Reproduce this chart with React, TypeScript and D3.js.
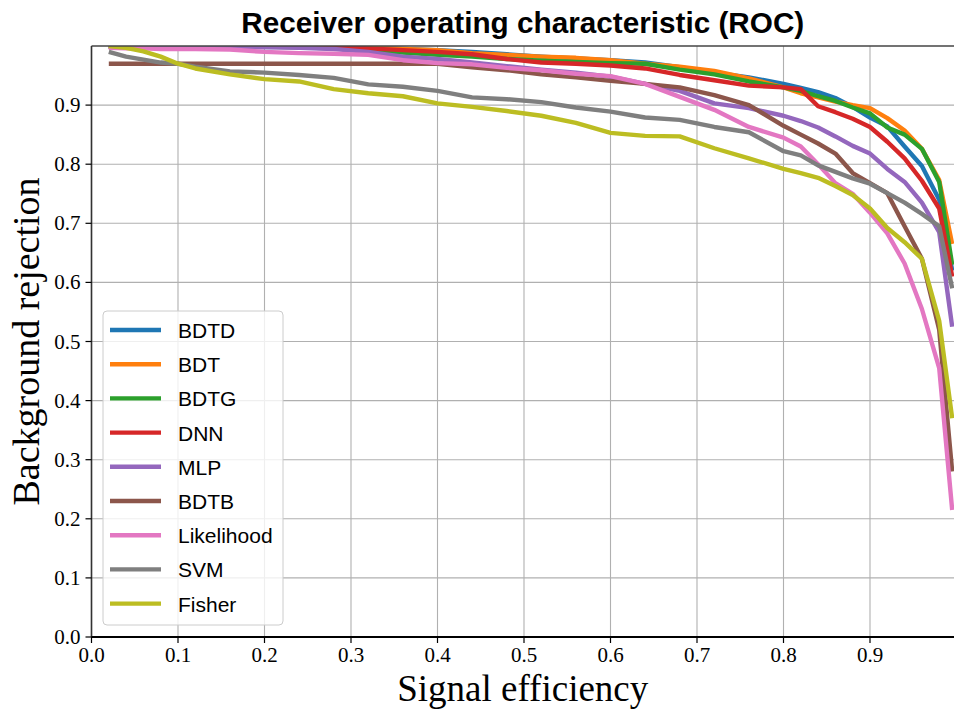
import { useEffect, useRef } from 'react';
import * as d3 from 'd3';

// signal efficiency points shared by every curve
const efficiency = [0.02, 0.04, 0.06, 0.08, 0.10, 0.12, 0.16, 0.20, 0.24, 0.28, 0.32, 0.36, 0.40, 0.44, 0.48, 0.52, 0.56, 0.60, 0.64, 0.68, 0.72, 0.76, 0.80, 0.82, 0.84, 0.86, 0.88, 0.90, 0.92, 0.94, 0.96, 0.98, 0.995];

const bdtd = [0.999, 0.999, 0.999, 0.999, 0.999, 0.999, 0.999, 0.999, 0.999, 0.999, 0.997, 0.995, 0.993, 0.99, 0.986, 0.982, 0.979, 0.976, 0.972, 0.964, 0.955, 0.947, 0.936, 0.929, 0.922, 0.912, 0.897, 0.879, 0.864, 0.83, 0.797, 0.74, 0.62];
const bdt = [0.999, 0.999, 0.999, 0.999, 0.999, 0.999, 0.999, 0.999, 0.999, 0.999, 0.997, 0.995, 0.993, 0.988, 0.985, 0.982, 0.98, 0.976, 0.97, 0.965, 0.958, 0.945, 0.93, 0.92, 0.913, 0.906, 0.9, 0.895, 0.878, 0.857, 0.826, 0.773, 0.665];
const bdtg = [0.999, 0.999, 0.999, 0.999, 0.999, 0.999, 0.999, 0.999, 0.998, 0.996, 0.993, 0.989, 0.985, 0.982, 0.978, 0.975, 0.973, 0.971, 0.97, 0.96, 0.952, 0.94, 0.93, 0.924, 0.915, 0.907, 0.896, 0.886, 0.862, 0.85, 0.826, 0.77, 0.63];
const dnn = [0.999, 0.999, 0.999, 0.999, 0.999, 0.999, 0.999, 0.999, 0.999, 0.998, 0.996, 0.993, 0.99, 0.986, 0.978, 0.972, 0.97, 0.967, 0.962, 0.951, 0.942, 0.933, 0.93, 0.927, 0.898, 0.888, 0.877, 0.863, 0.838, 0.81, 0.772, 0.725, 0.61];
const mlp = [0.999, 0.998, 0.998, 0.998, 0.998, 0.998, 0.998, 0.998, 0.997, 0.995, 0.99, 0.982, 0.978, 0.972, 0.966, 0.96, 0.955, 0.948, 0.936, 0.924, 0.903, 0.895, 0.882, 0.873, 0.862, 0.847, 0.831, 0.818, 0.792, 0.77, 0.735, 0.685, 0.525];
const bdtb = [0.97, 0.97, 0.97, 0.97, 0.97, 0.97, 0.97, 0.97, 0.97, 0.97, 0.97, 0.97, 0.97, 0.964, 0.959, 0.952, 0.947, 0.941, 0.936, 0.93, 0.917, 0.9, 0.865, 0.85, 0.835, 0.818, 0.785, 0.768, 0.751, 0.695, 0.64, 0.52, 0.28];
const likelihood = [0.997, 0.996, 0.996, 0.995, 0.995, 0.995, 0.994, 0.99, 0.988, 0.987, 0.985, 0.976, 0.971, 0.969, 0.963, 0.959, 0.953, 0.949, 0.936, 0.914, 0.892, 0.863, 0.845, 0.83, 0.8, 0.768, 0.75, 0.718, 0.683, 0.632, 0.555, 0.455, 0.215];
const svm = [0.99, 0.982, 0.977, 0.972, 0.97, 0.965, 0.957, 0.955, 0.951, 0.946, 0.935, 0.931, 0.924, 0.913, 0.91, 0.905, 0.896, 0.889, 0.879, 0.875, 0.863, 0.854, 0.822, 0.815, 0.798, 0.787, 0.776, 0.767, 0.751, 0.735, 0.716, 0.695, 0.59];
const fisher = [1.0, 0.997, 0.991, 0.982, 0.97, 0.962, 0.952, 0.944, 0.94, 0.927, 0.92, 0.915, 0.903, 0.897, 0.89, 0.882, 0.87, 0.853, 0.848, 0.847, 0.827, 0.81, 0.792, 0.785, 0.777, 0.763, 0.748, 0.725, 0.692, 0.668, 0.64, 0.535, 0.37];

const methods = ['BDTD', 'BDT', 'BDTG', 'DNN', 'MLP', 'BDTB', 'Likelihood', 'SVM', 'Fisher'];
const rejections = [bdtd, bdt, bdtg, dnn, mlp, bdtb, likelihood, svm, fisher];
const colors = ['#1f77b4', '#ff7f0e', '#2ca02c', '#d62728', '#9467bd', '#8c564b', '#e377c2', '#7f7f7f', '#bcbd22'];

const xTicks = [0, 0.1, 0.2, 0.3, 0.4, 0.5, 0.6, 0.7, 0.8, 0.9];
const yTicks = [0, 0.1, 0.2, 0.3, 0.4, 0.5, 0.6, 0.7, 0.8, 0.9];

const width = 954;
const height = 711;

export default function App() {
  const svgRef = useRef<SVGSVGElement>(null);

  useEffect(() => {
    if (!svgRef.current) return;
    const svg = d3.select(svgRef.current);
    svg.selectAll('*').remove();

    const left = 91.5;
    const right = 956.5;
    const top = 46;
    const bottom = 637;

    const x = d3.scaleLinear().domain([0, 1]).range([left, right]);
    const y = d3.scaleLinear().domain([0, 1]).range([bottom, top]);

    svg.append('rect').attr('width', width).attr('height', height).attr('fill', '#fff');

    svg.append('defs').append('clipPath').attr('id', 'plot-clip')
      .append('rect')
      .attr('x', left).attr('y', top)
      .attr('width', right - left).attr('height', bottom - top);

    // grid
    const grid = svg.append('g').attr('stroke', '#b0b0b0').attr('stroke-width', 1.1);
    xTicks.forEach(t => {
      grid.append('line').attr('x1', x(t)).attr('x2', x(t)).attr('y1', top).attr('y2', bottom);
    });
    yTicks.forEach(t => {
      grid.append('line').attr('x1', left).attr('x2', right).attr('y1', y(t)).attr('y2', y(t));
    });

    // ROC curves
    const line = d3.line<number>()
      .x((_, i) => x(efficiency[i]))
      .y(d => y(d));

    const curves = svg.append('g').attr('clip-path', 'url(#plot-clip)');
    rejections.forEach((values, i) => {
      curves.append('path')
        .datum(values)
        .attr('fill', 'none')
        .attr('stroke', colors[i])
        .attr('stroke-width', 4.4)
        .attr('stroke-linejoin', 'round')
        .attr('d', line);
    });

    // frame
    svg.append('line').attr('x1', left).attr('x2', right).attr('y1', top).attr('y2', top)
      .attr('stroke', '#444').attr('stroke-width', 1.6);
    svg.append('line').attr('x1', left).attr('x2', left).attr('y1', top).attr('y2', bottom)
      .attr('stroke', '#333').attr('stroke-width', 1.6);
    svg.append('line').attr('x1', left).attr('x2', right).attr('y1', bottom).attr('y2', bottom)
      .attr('stroke', '#000').attr('stroke-width', 1.8);

    // ticks
    const tickFont = '"Liberation Serif", "DejaVu Serif", serif';
    xTicks.forEach(t => {
      svg.append('line').attr('x1', x(t)).attr('x2', x(t)).attr('y1', bottom).attr('y2', bottom + 6)
        .attr('stroke', '#000').attr('stroke-width', 1.2);
      svg.append('text')
        .attr('x', x(t)).attr('y', bottom + 25)
        .attr('text-anchor', 'middle')
        .style('font-family', tickFont).style('font-size', '21px')
        .text(d3.format('.1f')(t));
    });
    yTicks.forEach(t => {
      svg.append('line').attr('x1', left - 6).attr('x2', left).attr('y1', y(t)).attr('y2', y(t))
        .attr('stroke', '#000').attr('stroke-width', 1.2);
      svg.append('text')
        .attr('x', left - 11).attr('y', y(t) + 7)
        .attr('text-anchor', 'end')
        .style('font-family', tickFont).style('font-size', '21px')
        .text(d3.format('.1f')(t));
    });

    // axis labels
    svg.append('text')
      .attr('x', (left + 954) / 2).attr('y', 701)
      .attr('text-anchor', 'middle')
      .style('font-family', tickFont).style('font-size', '37px')
      .text('Signal efficiency');
    svg.append('text')
      .attr('transform', `translate(39, ${(top + bottom) / 2}) rotate(-90)`)
      .attr('text-anchor', 'middle')
      .style('font-family', tickFont).style('font-size', '38px')
      .text('Background rejection');

    // title
    svg.append('text')
      .attr('x', (left + 954) / 2).attr('y', 33)
      .attr('text-anchor', 'middle')
      .style('font-family', '"Liberation Sans", Arial, sans-serif')
      .style('font-weight', 'bold').style('font-size', '29px')
      .attr('textLength', 563).attr('lengthAdjust', 'spacingAndGlyphs')
      .text('Receiver operating characteristic (ROC)');

    // legend
    const legend = svg.append('g');
    legend.append('rect')
      .attr('x', 103).attr('y', 311).attr('width', 180).attr('height', 314)
      .attr('rx', 4)
      .attr('fill', '#fff').attr('fill-opacity', 0.8)
      .attr('stroke', '#ccc').attr('stroke-width', 1);
    methods.forEach((name, i) => {
      const ly = 330 + i * 34.2;
      legend.append('line')
        .attr('x1', 110).attr('x2', 161).attr('y1', ly).attr('y2', ly)
        .attr('stroke', colors[i]).attr('stroke-width', 4.4);
      legend.append('text')
        .attr('x', 178).attr('y', ly + 8)
        .style('font-family', '"Liberation Sans", Arial, sans-serif')
        .style('font-size', '21px')
        .text(name);
    });
  }, []);

  return (
    <svg
      ref={svgRef}
      width={width}
      height={height}
      style={{ position: 'absolute', left: 0, top: 0, display: 'block' }}
    />
  );
}
